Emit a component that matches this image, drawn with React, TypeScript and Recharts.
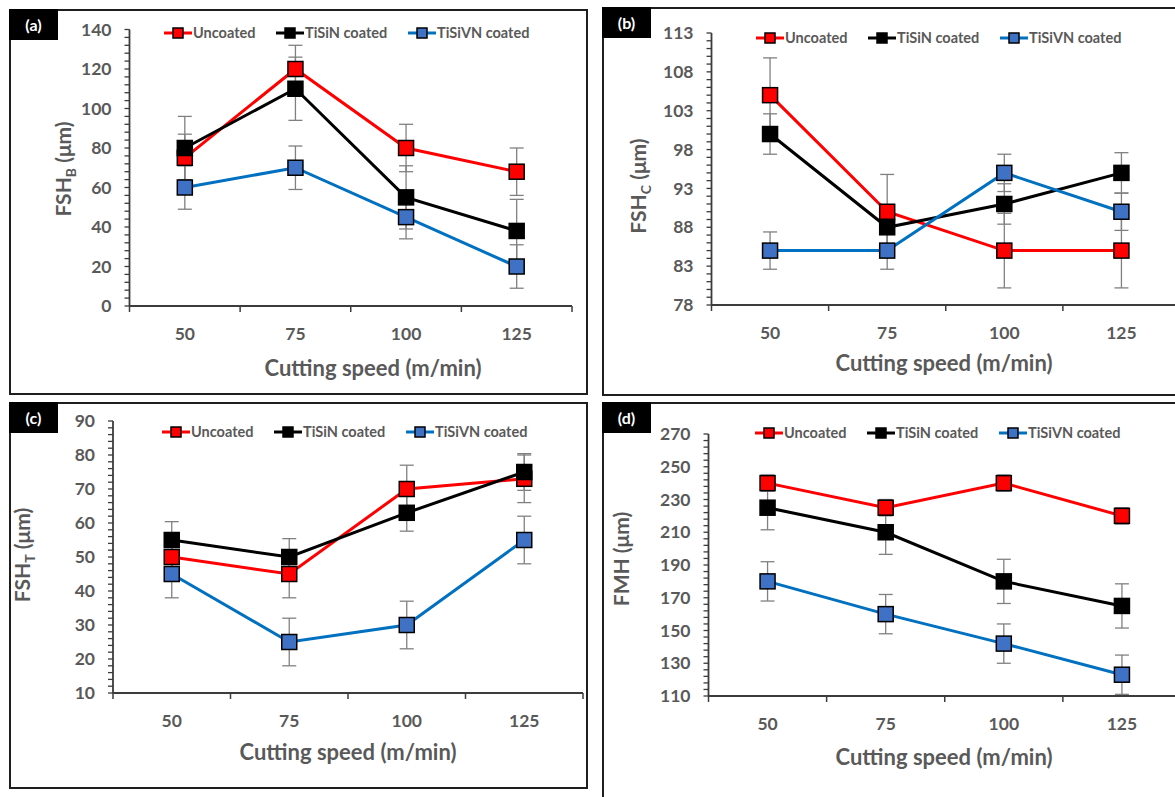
import React from 'react';
import { ErrorBar, Label, Line, LineChart, XAxis, YAxis } from 'recharts';

const speeds = ['50', '75', '100', '125'];
const seriesNames = ['Uncoated', 'TiSiN coated', 'TiSiVN coated'];

// (a) FSH_B
const fshbUncoated = [75, 120, 80, 68];
const fshbUncoatedErr = [12, 12, 12, 12];
const fshbTiSiN = [80, 110, 55, 38];
const fshbTiSiNErr = [16, 16, 16, 16];
const fshbTiSiVN = [60, 70, 45, 20];
const fshbTiSiVNErr = [11, 11, 11, 11];
const fshbTicks = [0, 20, 40, 60, 80, 100, 120, 140];

// (b) FSH_C
const fshcUncoated = [105, 90, 85, 85];
const fshcUncoatedErr = [4.8, 4.8, 4.8, 4.8];
const fshcTiSiN = [100, 88, 91, 95];
const fshcTiSiNErr = [2.6, 2.6, 2.6, 2.6];
const fshcTiSiVN = [85, 85, 95, 90];
const fshcTiSiVNErr = [2.4, 2.4, 2.4, 2.4];
const fshcTicks = [78, 83, 88, 93, 98, 103, 108, 113];

// (c) FSH_T
const fshtUncoated = [50, 45, 70, 73];
const fshtUncoatedErr = [7, 7, 7, 7];
const fshtTiSiN = [55, 50, 63, 75];
const fshtTiSiNErr = [5.4, 5.4, 5.4, 5.4];
const fshtTiSiVN = [45, 25, 30, 55];
const fshtTiSiVNErr = [7, 7, 7, 7];
const fshtTicks = [10, 20, 30, 40, 50, 60, 70, 80, 90];

// (d) FMH
const fmhUncoated = [240, 225, 240, 220];
const fmhUncoatedErr = [5, 5, 5, 5];
const fmhTiSiN = [225, 210, 180, 165];
const fmhTiSiNErr = [13.5, 13.5, 13.5, 13.5];
const fmhTiSiVN = [180, 160, 142, 123];
const fmhTiSiVNErr = [12, 12, 12, 12];
const fmhTicks = [110, 130, 150, 170, 190, 210, 230, 250, 270];

const LINE = ['#ff0000', '#000000', '#0070c0'];
const MARK = ['#ff0000', '#000000', '#3f72c4'];
const AXIS = '#3c3c3c';
const TEXT = '#595959';
const FONT = 'Lato, "Open Sans", sans-serif';
const Y_W = 60;
const X_H = 40;

const buildRows = (vals: number[][], errs: number[][]) =>
  speeds.map((s, i) => ({
    pos: i,
    speed: s,
    s0: vals[0][i],
    e0: errs[0][i],
    s1: vals[1][i],
    e1: errs[1][i],
    s2: vals[2][i],
    e2: errs[2][i],
  }));

const xTicks = speeds.flatMap((_, i) => [i - 0.5, i]).concat(speeds.length - 0.5);

const XTick = (props: any) => {
  const { x, y, payload } = props;
  const v = payload.value;
  if (Number.isInteger(v)) {
    return (
      <text x={x} y={y + 28} dy="0.35em" textAnchor="middle" fill={TEXT} fontSize={17.5} fontWeight={700} fontFamily={FONT}>
        {speeds[v]}
      </text>
    );
  }
  return <line x1={x} x2={x} y1={y} y2={y + 6} stroke={AXIS} strokeWidth={1.5} />;
};

const YTick = (props: any) => {
  const { x, y, payload, majors } = props;
  const v = payload.value;
  const major = majors.includes(v);
  return (
    <g>
      <line x1={x - 5} x2={x} y1={y} y2={y} stroke={AXIS} strokeWidth={1.3} />
      {major && (
        <text x={x - 18} y={y} dy="0.35em" textAnchor="end" fill={TEXT} fontSize={17.5} fontWeight={700} fontFamily={FONT}>
          {v}
        </text>
      )}
    </g>
  );
};

const makeDot = (fill: string) => (p: any) => {
  if (p.cx == null || p.cy == null) return <g key={`n-${p.index}`} />;
  return (
    <rect key={`d-${p.index}`} x={p.cx - 7.5} y={p.cy - 7.5} width={15} height={15} fill={fill} stroke="#000" strokeWidth={1.5} />
  );
};

type Box = { x: number; y: number; w: number; h: number };
type Plot = { x0: number; x1: number; y0: number; y1: number };

interface PanelProps {
  tag: string;
  box: Box;
  plot: Plot;
  rows: ReturnType<typeof buildRows>;
  yTicks: number[];
  yMain: string;
  ySub: string;
  legend: { x: number; y: number };
  yTitle: { x: number; y: number };
  xTitle: { x: number; y: number };
}

const Panel: React.FC<PanelProps> = ({ tag, box, plot, rows, yTicks, yMain, ySub, legend, yTitle, xTitle }) => {
  const step = (yTicks[1] - yTicks[0]) / 5;
  const minor: number[] = [];
  for (let v = yTicks[0]; v <= yTicks[yTicks.length - 1] + 1e-9; v += step) minor.push(Math.round(v * 1000) / 1000);
  const margin = {
    top: plot.y0 - box.y,
    right: box.x + box.w - plot.x1,
    bottom: box.y + box.h - plot.y1 - X_H,
    left: plot.x0 - box.x - Y_W,
  };
  const legendOffsets = [0, 112, 244];

  return (
    <>
      <div
        style={{
          position: 'absolute',
          left: box.x,
          top: box.y,
          width: box.w,
          height: box.h,
          border: '2px solid #1e1e1e',
          boxSizing: 'border-box',
        }}
      />
      <div style={{ position: 'absolute', left: box.x, top: box.y }}>
        <LineChart width={box.w} height={box.h} data={rows} margin={margin}>
          <XAxis
            type="number"
            dataKey="pos"
            domain={[-0.5, speeds.length - 0.5]}
            ticks={xTicks}
            interval={0}
            tickSize={0}
            tickMargin={0}
            tickLine={false}
            axisLine={{ stroke: AXIS, strokeWidth: 1.8 }}
            tick={<XTick />}
            height={X_H}
            allowDataOverflow
          >
            <Label
              content={() => (
                <text
                  x={xTitle.x - box.x}
                  y={xTitle.y - box.y}
                  dy="0.35em"
                  textAnchor="middle"
                  fill={TEXT}
                  fontSize={22}
                  fontWeight={700}
                  fontFamily={FONT}
                >
                  Cutting speed (m/min)
                </text>
              )}
            />
          </XAxis>
          <YAxis
            type="number"
            domain={[yTicks[0], yTicks[yTicks.length - 1]]}
            ticks={minor}
            interval={0}
            tickSize={0}
            tickMargin={0}
            tickLine={false}
            axisLine={{ stroke: AXIS, strokeWidth: 1.8 }}
            tick={<YTick majors={yTicks} />}
            width={Y_W}
            allowDataOverflow
          >
            <Label
              content={() => {
                const cx = yTitle.x - box.x;
                const cy = yTitle.y - box.y;
                return (
                  <text
                    x={cx}
                    y={cy}
                    dy="0.35em"
                    textAnchor="middle"
                    transform={`rotate(-90, ${cx}, ${cy})`}
                    fill={TEXT}
                    fontSize={21}
                    fontWeight={700}
                    fontFamily={FONT}
                  >
                    {yMain}
                    {ySub && (
                      <tspan dy={5} fontSize={14}>
                        {ySub}
                      </tspan>
                    )}
                    <tspan dy={ySub ? -5 : 0}> (μm)</tspan>
                  </text>
                );
              }}
            />
          </YAxis>
          {[0, 1, 2].map((k) => (
            <Line
              key={k}
              type="linear"
              dataKey={`s${k}`}
              name={seriesNames[k]}
              stroke={LINE[k]}
              strokeWidth={3}
              dot={makeDot(MARK[k])}
              activeDot={false}
              isAnimationActive={false}
            >
              <ErrorBar dataKey={`e${k}`} width={7} stroke="#808080" strokeWidth={1.3} direction="y" />
            </Line>
          ))}
        </LineChart>
      </div>
      <div
        style={{
          position: 'absolute',
          left: box.x,
          top: box.y,
          width: 49,
          height: 31,
          background: '#000',
          color: '#fff',
          fontFamily: FONT,
          fontWeight: 700,
          fontSize: 16,
          display: 'flex',
          alignItems: 'center',
          justifyContent: 'center',
        }}
      >
        {tag}
      </div>
      {seriesNames.map((name, k) => {
        const cx = legend.x + legendOffsets[k];
        return (
          <React.Fragment key={name}>
            <svg style={{ position: 'absolute', left: cx - 14, top: legend.y - 6 }} width={28} height={12}>
              <line x1={0} x2={28} y1={6} y2={6} stroke={LINE[k]} strokeWidth={3} />
              <rect x={9} y={1} width={10} height={10} fill={MARK[k]} stroke="#000" strokeWidth={1.5} />
            </svg>
            <span
              style={{
                position: 'absolute',
                left: cx + 15,
                top: legend.y - 10,
                lineHeight: '20px',
                fontFamily: FONT,
                fontWeight: 700,
                fontSize: 14.5,
                color: TEXT,
                whiteSpace: 'nowrap',
              }}
            >
              {name}
            </span>
          </React.Fragment>
        );
      })}
    </>
  );
};

const App: React.FC = () => {
  const rowsA = buildRows([fshbUncoated, fshbTiSiN, fshbTiSiVN], [fshbUncoatedErr, fshbTiSiNErr, fshbTiSiVNErr]);
  const rowsB = buildRows([fshcUncoated, fshcTiSiN, fshcTiSiVN], [fshcUncoatedErr, fshcTiSiNErr, fshcTiSiVNErr]);
  const rowsC = buildRows([fshtUncoated, fshtTiSiN, fshtTiSiVN], [fshtUncoatedErr, fshtTiSiNErr, fshtTiSiVNErr]);
  const rowsD = buildRows([fmhUncoated, fmhTiSiN, fmhTiSiVN], [fmhUncoatedErr, fmhTiSiNErr, fmhTiSiVNErr]);

  return (
    <div
      style={{
        position: 'absolute',
        left: 0,
        top: 0,
        width: 1175,
        height: 797,
        overflow: 'hidden',
        background: '#fff',
      }}
    >
      <Panel
        tag="(a)"
        box={{ x: 9, y: 9, w: 579, h: 386 }}
        plot={{ x0: 129.5, x1: 572, y0: 29.5, y1: 306 }}
        rows={rowsA}
        yTicks={fshbTicks}
        yMain="FSH"
        ySub="B"
        legend={{ x: 178, y: 33 }}
        yTitle={{ x: 64, y: 169 }}
        xTitle={{ x: 373, y: 368 }}
      />
      <Panel
        tag="(b)"
        box={{ x: 602, y: 7, w: 590, h: 389 }}
        plot={{ x0: 711.5, x1: 1180, y0: 33, y1: 305 }}
        rows={rowsB}
        yTicks={fshcTicks}
        yMain="FSH"
        ySub="C"
        legend={{ x: 770, y: 38 }}
        yTitle={{ x: 638.5, y: 186 }}
        xTitle={{ x: 944, y: 363 }}
      />
      <Panel
        tag="(c)"
        box={{ x: 9, y: 402, w: 579, h: 387 }}
        plot={{ x0: 113, x1: 583, y0: 421, y1: 693 }}
        rows={rowsC}
        yTicks={fshtTicks}
        yMain="FSH"
        ySub="T"
        legend={{ x: 176, y: 432 }}
        yTitle={{ x: 23, y: 555 }}
        xTitle={{ x: 348, y: 752 }}
      />
      <Panel
        tag="(d)"
        box={{ x: 602, y: 402, w: 590, h: 400 }}
        plot={{ x0: 708.5, x1: 1181, y0: 434, y1: 696 }}
        rows={rowsD}
        yTicks={fmhTicks}
        yMain="FMH"
        ySub=""
        legend={{ x: 769, y: 433 }}
        yTitle={{ x: 622, y: 559 }}
        xTitle={{ x: 944, y: 757 }}
      />
    </div>
  );
};

export default App;
